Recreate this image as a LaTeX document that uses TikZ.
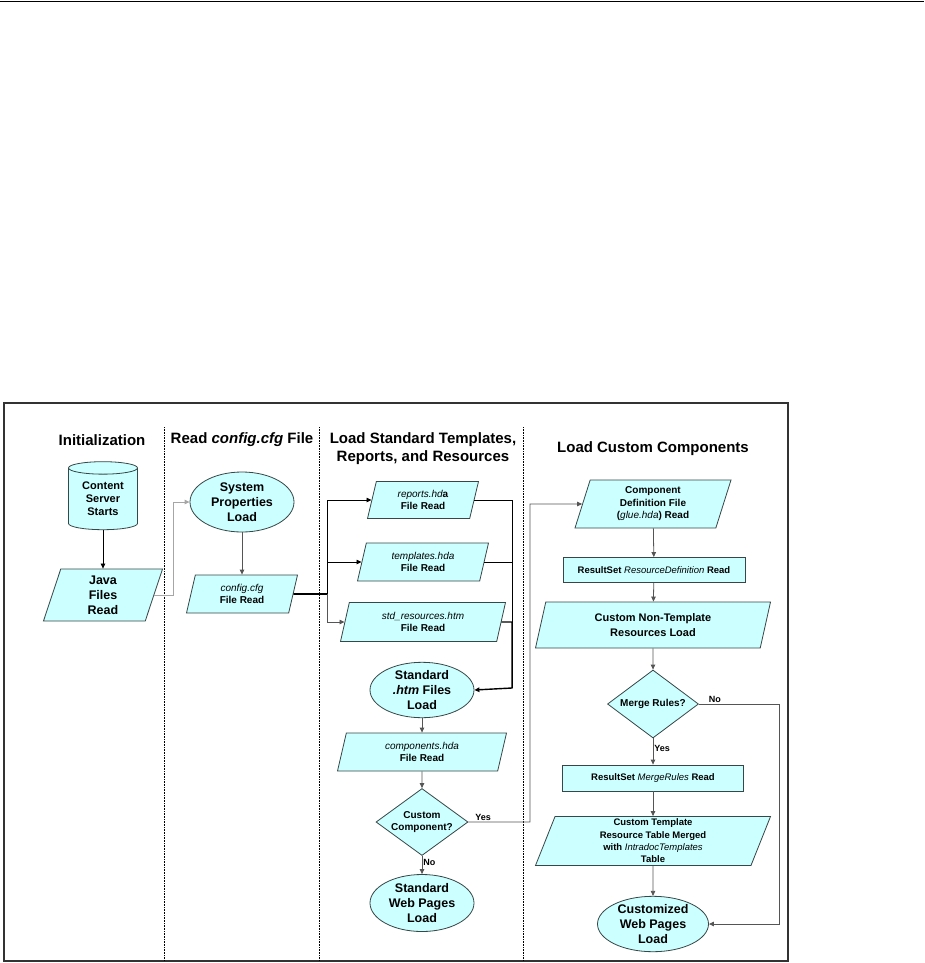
\documentclass[tikz,border=0pt]{standalone}
\usepackage{fontspec}
\setmainfont{Liberation Sans}
\usetikzlibrary{shapes.geometric,arrows.meta}

\definecolor{boxfill}{RGB}{204,255,255}
\definecolor{boxline}{RGB}{55,70,70}
\definecolor{wire}{RGB}{85,85,85}
\newcommand\fname[1]{{\mdseries\itshape #1}}
\newcommand\smalltxt{\fontsize{10}{12.5}\selectfont\bfseries}
\newcommand\bigtxt{\fontsize{12.5}{15}\selectfont\bfseries}

\tikzset{
  base/.style={draw=boxline, fill=boxfill, line width=0.8pt, align=center,
    inner sep=0pt, font=\smalltxt},
  data/.style={base, trapezium, trapezium left angle=66,
    trapezium right angle=114, trapezium stretches body},
  term/.style={base, ellipse, font=\bigtxt},
  proc/.style={base, rectangle, font=\fontsize{9.5}{12}\selectfont\bfseries},
  cond/.style={base, diamond, aspect=1.4},
  cyl/.style={base, cylinder, shape border rotate=90, aspect=0.3},
  title/.style={font=\fontsize{15}{18}\selectfont\bfseries, align=center},
  arr/.style={->, draw=wire, line width=0.8pt},
  lab/.style={font=\fontsize{9}{11}\selectfont\bfseries, inner sep=1pt}
}

\begin{document}
\begin{tikzpicture}[x=1pt, y=-1pt, >={Triangle[length=5pt,width=4.5pt]}]
  \useasboundingbox (0,0) rectangle (924,963);
  \draw[line width=1.2pt] (0,1.5) -- (924,1.5);
  \draw[line width=1.5pt, black!80] (4,403) rectangle (788,961);
  \foreach \x in {164,319,523}
    \draw[densely dotted, line width=0.6pt] (\x,427) -- (\x,961);

  % lane titles
  \node[title] (tinit) at (102,440) {Initialization};
  \node[title] (tread) at (242,440) {Read \textit{config.cfg} File};
  \node[title] (tstd) at (423,449) {Load Standard Templates,\\Reports, and Resources};
  \node[title] (tcust) at (653,449) {Load Custom Components};

  % initialization and config
  \node[cyl, font=\fontsize{11}{13}\selectfont\bfseries, minimum width=69, minimum height=68] (cs) at (103,499) {Content\\Server\\Starts};
  \node[data, font=\bigtxt, minimum width=119, minimum height=52] (java) at (103,595) {Java\\Files\\Read};
  \node[term, minimum width=104, minimum height=60] (sys) at (242,502) {System\\Properties\\Load};
  \node[data, minimum width=111, minimum height=38] (cfg) at (242,594) {\fname{config.cfg}\\File Read};

  % standard templates
  \node[data, minimum width=111, minimum height=37] (rep) at (423,500) {\fname{reports.hd}a\\File Read};
  \node[data, minimum width=131, minimum height=38] (tpl) at (423,562) {\fname{templates.hda}\\File Read};
  \node[data, minimum width=165, minimum height=39] (res) at (423,622) {\fname{std\_resources.htm}\\File Read};
  \node[term, minimum width=104, minimum height=55] (htm) at (422,690) {Standard\\\textit{.htm} Files\\Load};
  \node[data, minimum width=169, minimum height=38] (comp) at (422,752) {\fname{components.hda}\\File Read};
  \node[cond, minimum width=92, minimum height=67] (cc) at (422,822) {Custom\\Component?};
  \node[term, minimum width=104, minimum height=57] (web) at (422,903) {Standard\\Web Pages\\Load};

  % custom components
  \node[data, minimum width=156, minimum height=48] (cdef) at (653,504) {Component\\Definition File\\(\fname{glue.hda}) Read};
  \node[proc, minimum width=182, minimum height=25] (rdef) at (654,570) {ResultSet \fname{ResourceDefinition} Read};
  \node[data, font=\fontsize{11}{15}\selectfont\bfseries, minimum width=235, minimum height=46] (cnt) at (653,625) {Custom Non-Template\\Resources Load};
  \node[cond, minimum width=91, minimum height=68] (mr) at (653,704) {Merge Rules?};
  \node[proc, minimum width=181, minimum height=26] (mrr) at (653,778) {ResultSet \fname{MergeRules} Read};
  \node[data, font=\fontsize{9.5}{12.3}\selectfont\bfseries, minimum width=235, minimum height=49] (ctm) at (653,841) {Custom Template\\Resource Table Merged\\with \fname{IntradocTemplates}\\Table};
  \node[term, minimum width=111, minimum height=55] (cw) at (653,924) {Customized\\Web Pages\\Load};

  \coordinate (jn) at (327,594);
  \coordinate (rs) at (512,688);
  \coordinate (yc) at (530,504);
  \coordinate (nc) at (779,924);

  % connectors
  \draw[arr, draw=black] (cs) -- (java);
  \draw[arr, draw=black!35] (java.east) -- ++(19,0) |- (sys.west);
  \draw[arr] (sys) -- (cfg);
  \draw[line width=1.6pt] (cfg.east) -- (jn);
  \draw[arr, draw=black] (jn) |- (rep.west);
  \draw[arr, draw=black] (jn) |- (tpl.west);
  \draw[arr] (jn) |- (res.west);
  \draw[draw=black, line width=0.8pt] (rep.east) -| (rs);
  \draw[draw=black, line width=0.8pt] (tpl.east) -- (tpl.east -| rs);
  \draw[arr, draw=black, line width=1.4pt] (res.east) -| (rs) -- (htm.east);
  \draw[arr] (htm) -- (comp);
  \draw[arr] (comp) -- (cc);
  \draw[arr] (cc) -- node[lab, right, pos=0.35] {No} (web);
  \draw[arr] (cc.east) -| node[lab, above, pos=0.12] {Yes} (yc) -- (cdef.west);
  \draw[arr] (cdef) -- (rdef);
  \draw[arr] (rdef) -- (cnt);
  \draw[arr] (cnt) -- (mr);
  \draw[arr] (mr) -- node[lab, right, pos=0.4] {Yes} (mrr);
  \draw[arr] (mrr) -- (ctm);
  \draw[arr] (ctm) -- (cw);
  \draw[arr] (mr.east) -| node[lab, above, pos=0.1] {No} (nc) -- (cw.east);
\end{tikzpicture}
\end{document}
